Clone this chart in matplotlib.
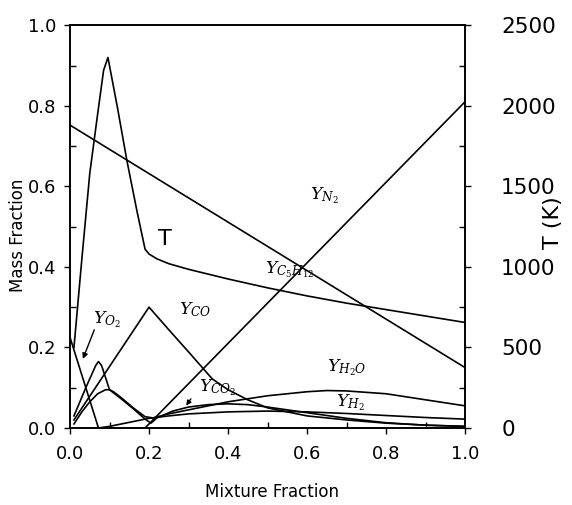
"""
Mass fractions and temperature versus mixture fraction (scanned figure redrawn).
"""

import matplotlib
matplotlib.use('Agg')
import matplotlib.pyplot as plt
from matplotlib.ticker import MultipleLocator, FormatStrFormatter

plt.rcParams['mathtext.fontset'] = 'dejavuserif'

# temperature (right axis, K)
x_T = [0.01, 0.03, 0.05, 0.07, 0.085, 0.096, 0.12, 0.144, 0.17, 0.19, 0.2, 0.22,
       0.25, 0.3, 0.35, 0.4, 0.5, 0.6, 0.7, 0.8, 0.9, 1.0]
T_K = [500, 1050, 1580, 1950, 2220, 2300, 1990, 1660, 1340, 1110, 1080, 1050,
       1020, 985, 955, 925, 870, 820, 775, 735, 695, 655]

# mass fractions (left axis)
x_N2 = [0.0, 1.0]
Y_N2 = [0.752, 0.15]

x_C5H12 = [0.19, 1.0]
Y_C5H12 = [0.0, 0.81]

x_O2 = [0.0, 0.072]
Y_O2 = [0.225, 0.0]

x_CO = [0.01, 0.2, 0.25, 0.3, 0.36, 0.4, 0.45, 0.5, 0.6, 0.7, 0.8, 0.9, 1.0]
Y_CO = [0.02, 0.30, 0.244, 0.189, 0.122, 0.095, 0.07, 0.05, 0.03, 0.02, 0.012, 0.007, 0.004]

x_CO2 = [0.01, 0.04, 0.065, 0.072, 0.08, 0.09, 0.1, 0.13, 0.16, 0.19, 0.205, 0.22,
         0.26, 0.3, 0.35, 0.4, 0.45, 0.5, 0.6, 0.7, 0.8, 0.9, 1.0]
Y_CO2 = [0.03, 0.1, 0.155, 0.165, 0.155, 0.125, 0.095, 0.072, 0.048, 0.022, 0.012, 0.025,
         0.042, 0.052, 0.058, 0.06, 0.058, 0.052, 0.038, 0.024, 0.013, 0.007, 0.004]

x_H2O = [0.01, 0.03, 0.05, 0.07, 0.09, 0.1, 0.11, 0.13, 0.16, 0.19, 0.21, 0.25,
         0.3, 0.4, 0.5, 0.6, 0.65, 0.7, 0.8, 0.9, 1.0]
Y_H2O = [0.01, 0.04, 0.065, 0.085, 0.095, 0.095, 0.09, 0.075, 0.05, 0.028, 0.025, 0.035,
         0.045, 0.065, 0.08, 0.09, 0.093, 0.092, 0.085, 0.07, 0.055]

x_H2 = [0.072, 0.1, 0.15, 0.2, 0.25, 0.3, 0.4, 0.5, 0.6, 0.7, 0.8, 0.9, 1.0]
Y_H2 = [0.0, 0.004, 0.014, 0.024, 0.03, 0.035, 0.04, 0.042, 0.04, 0.036, 0.031, 0.026, 0.022]

fig = plt.figure(figsize=(5.72, 5.05), dpi=100)
ax = fig.add_axes([0.1224, 0.1525, 0.6906, 0.7975])
ax2 = ax.twinx()

lw = 1.2
for xs, ys in [(x_N2, Y_N2), (x_C5H12, Y_C5H12), (x_O2, Y_O2), (x_CO, Y_CO),
               (x_CO2, Y_CO2), (x_H2O, Y_H2O), (x_H2, Y_H2)]:
    ax.plot(xs, ys, color='black', lw=lw)
ax2.plot(x_T, T_K, color='black', lw=lw)

ax.set_xlim(0, 1)
ax.set_ylim(0, 1)
ax2.set_ylim(0, 2500)

ax.xaxis.set_major_locator(MultipleLocator(0.2))
ax.xaxis.set_minor_locator(MultipleLocator(0.1))
ax.yaxis.set_major_locator(MultipleLocator(0.2))
ax.yaxis.set_minor_locator(MultipleLocator(0.1))
ax.xaxis.set_major_formatter(FormatStrFormatter('%.1f'))
ax.yaxis.set_major_formatter(FormatStrFormatter('%.1f'))
ax2.yaxis.set_major_locator(MultipleLocator(500))
ax2.yaxis.set_minor_locator(MultipleLocator(250))

ax.tick_params(axis='both', which='major', direction='out', length=4, width=1,
               labelsize=13)
ax.tick_params(axis='both', which='minor', direction='in', length=4, width=1)
ax.tick_params(axis='x', which='both', top=False)
ax.tick_params(axis='y', which='both', right=False)
ax.tick_params(axis='x', which='major', pad=8)
ax.tick_params(axis='y', which='major', pad=6)
ax2.tick_params(axis='x', which='both', top=False, bottom=False)
ax2.tick_params(axis='y', which='both', left=False)
ax2.tick_params(axis='y', which='major', direction='out', length=4, width=1,
                labelsize=15.5, pad=22)
ax2.tick_params(axis='y', which='minor', direction='in', length=4, width=1)

for a in (ax, ax2):
    for s in a.spines.values():
        s.set_linewidth(1.2)

fig.text(0.032, 0.535, 'Mass Fraction', rotation=90, ha='center', va='center', fontsize=12)
fig.text(0.475, 0.026, 'Mixture Fraction', ha='center', va='center', fontsize=12)
fig.text(0.967, 0.56, 'T (K)', rotation=90, ha='center', va='center', fontsize=16)

fs = 12.5
ax.text(0.645, 0.578, r'$Y_{N_2}$', fontsize=fs, ha='center', va='center')
ax.text(0.24, 0.47, 'T', fontsize=16, ha='center', va='center')
ax.text(0.094, 0.27, r'$Y_{O_2}$', fontsize=fs, ha='center', va='center')
ax.annotate('', xy=(0.03, 0.165), xytext=(0.064, 0.25),
            arrowprops=dict(arrowstyle='-|>', color='black', lw=1, mutation_scale=8))
ax.text(0.316, 0.295, r'$Y_{CO}$', fontsize=fs, ha='center', va='center')
ax.text(0.555, 0.392, r'$Y_{C_5H_{12}}$', fontsize=fs, ha='center', va='center')
ax.text(0.375, 0.10, r'$Y_{CO_2}$', fontsize=fs, ha='center', va='center')
ax.annotate('', xy=(0.29, 0.05), xytext=(0.31, 0.078),
            arrowprops=dict(arrowstyle='-|>', color='black', lw=1, mutation_scale=7))
ax.text(0.70, 0.149, r'$Y_{H_2O}$', fontsize=fs, ha='center', va='center')
ax.text(0.71, 0.063, r'$Y_{H_2}$', fontsize=fs, ha='center', va='center')

fig.savefig('out.png', dpi=100)
